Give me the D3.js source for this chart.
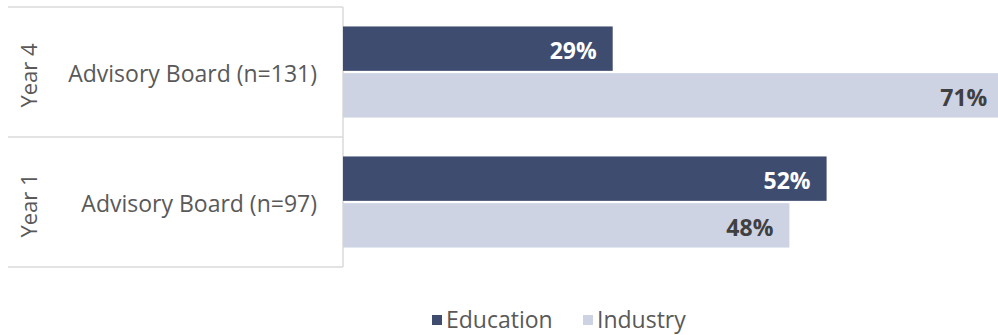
<!DOCTYPE html>
<html>
<head>
<meta charset="utf-8">
<script src="https://cdn.jsdelivr.net/npm/d3@7"></script>
<style>
  html, body { margin: 0; padding: 0; background: #fff; }
  svg { display: block; font-family: "Open Sans", "Noto Sans", sans-serif; }
</style>
</head>
<body>
<svg id="chart" width="998" height="335"></svg>
<script>
// Survey groups, top to bottom
const periods = ["Year 4", "Year 1"];
const groupLabels = ["Advisory Board (n=131)", "Advisory Board (n=97)"];
const seriesNames = ["Education", "Industry"];
const educationShare = [0.29, 0.52];
const industryShare = [0.71, 0.48];

const colors = { Education: "#3e4c6f", Industry: "#cdd3e3" };
const labelColors = { Education: "#ffffff", Industry: "#404040" };

const rows = periods.map((p, i) => ({
  period: p,
  label: groupLabels[i],
  values: [
    { series: "Education", value: educationShare[i] },
    { series: "Industry", value: industryShare[i] }
  ]
}));

const svg = d3.select("#chart");
const plotLeft = 343, plotTop = 7, plotBottom = 267;

const y = d3.scaleBand().domain(periods).range([plotTop, plotBottom]).padding(0);
const yInner = d3.scaleBand().domain(seriesNames).range([0, y.bandwidth()])
  .paddingInner(0.049).paddingOuter(0.4165);
const x = d3.scaleLinear().domain([0, 1]).range([plotLeft, plotLeft + 930]);

// table grid on the left
const grid = svg.append("g").attr("stroke", "#dadada").attr("stroke-width", 1.5);
[plotTop, ...periods.map(p => y(p) + y.bandwidth())].forEach(v => {
  grid.append("line").attr("x1", 8).attr("x2", plotLeft).attr("y1", v).attr("y2", v);
});
grid.append("line").attr("x1", plotLeft).attr("x2", plotLeft).attr("y1", plotTop).attr("y2", plotBottom);

const g = svg.selectAll("g.row").data(rows).join("g")
  .attr("class", "row")
  .attr("transform", d => `translate(0,${y(d.period)})`);

// period labels (rotated)
g.append("text")
  .attr("transform", `translate(37,${y.bandwidth() / 2 + 3.5}) rotate(-90)`)
  .attr("text-anchor", "middle")
  .attr("fill", "#595959")
  .attr("font-size", 22)
  .text(d => d.period);

// group labels
g.append("text")
  .attr("x", 317)
  .attr("y", y.bandwidth() / 2 + 9.5)
  .attr("text-anchor", "end")
  .attr("fill", "#595959")
  .attr("font-size", 23)
  .text(d => d.label);

// bars
g.selectAll("rect").data(d => d.values).join("rect")
  .attr("x", x(0))
  .attr("y", d => yInner(d.series))
  .attr("width", d => x(d.value) - x(0))
  .attr("height", yInner.bandwidth())
  .attr("fill", d => colors[d.series]);

// value labels
g.selectAll("text.val").data(d => d.values).join("text")
  .attr("class", "val")
  .attr("x", d => x(d.value) - 16)
  .attr("y", d => yInner(d.series) + yInner.bandwidth() / 2 + 10.5)
  .attr("text-anchor", "end")
  .attr("font-size", 23)
  .attr("font-weight", "bold")
  .attr("fill", d => labelColors[d.series])
  .text(d => d3.format(".0%")(d.value));

// legend
const legendItems = [
  { name: "Education", x: 432 },
  { name: "Industry", x: 583 }
];
const lg = svg.append("g").selectAll("g").data(legendItems).join("g")
  .attr("transform", d => `translate(${d.x},320)`);
lg.append("rect").attr("x", 0).attr("y", -5).attr("width", 10).attr("height", 10)
  .attr("fill", d => colors[d.name]);
lg.append("text").attr("x", 14).attr("y", 8)
  .attr("font-size", 23).attr("fill", "#595959")
  .text(d => d.name);
</script>
</body>
</html>
